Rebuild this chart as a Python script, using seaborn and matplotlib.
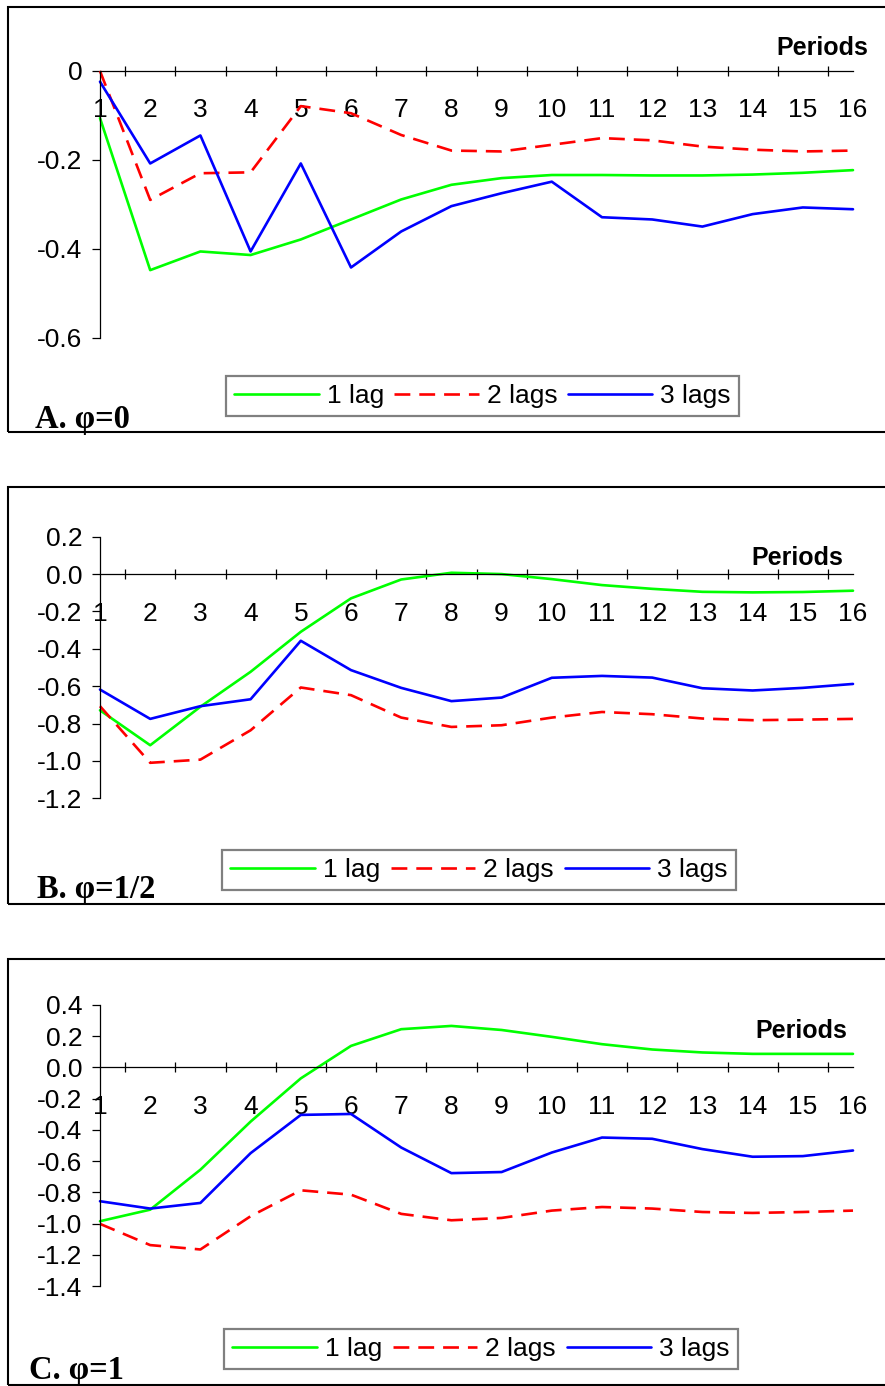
import numpy as np
import pandas as pd
import matplotlib
matplotlib.use("Agg")
import matplotlib.pyplot as plt
from matplotlib.patches import Rectangle
import seaborn as sns

# ─── DATA ──────────────────────────────────────────────────────────────────
periods = list(range(1, 17))
series_names = ['1 lag', '2 lags', '3 lags']

# A. phi = 0
a_lag1 = [-0.106, -0.448, -0.406, -0.414, -0.379, -0.334, -0.289, -0.256,
          -0.241, -0.234, -0.234, -0.235, -0.235, -0.233, -0.229, -0.223]
a_lag2 = [0.0, -0.290, -0.230, -0.228, -0.079, -0.095, -0.144, -0.179,
          -0.181, -0.166, -0.151, -0.156, -0.170, -0.177, -0.181, -0.179]
a_lag3 = [-0.024, -0.208, -0.145, -0.406, -0.208, -0.442, -0.361, -0.304,
          -0.275, -0.249, -0.329, -0.334, -0.350, -0.322, -0.307, -0.311]

# B. phi = 1/2
b_lag1 = [-0.729, -0.916, -0.710, -0.523, -0.309, -0.130, -0.029, 0.007,
          0.000, -0.027, -0.059, -0.079, -0.095, -0.098, -0.096, -0.089]
b_lag2 = [-0.707, -1.010, -0.993, -0.836, -0.607, -0.648, -0.768, -0.818,
          -0.809, -0.768, -0.738, -0.750, -0.773, -0.782, -0.779, -0.775]
b_lag3 = [-0.618, -0.775, -0.707, -0.670, -0.357, -0.514, -0.609, -0.680,
          -0.661, -0.555, -0.545, -0.554, -0.611, -0.623, -0.609, -0.588]

# C. phi = 1
c_lag1 = [-0.985, -0.911, -0.655, -0.347, -0.070, 0.138, 0.245, 0.266,
          0.240, 0.196, 0.149, 0.115, 0.096, 0.087, 0.087, 0.087]
c_lag2 = [-1.002, -1.138, -1.166, -0.953, -0.787, -0.815, -0.938, -0.979,
          -0.964, -0.917, -0.894, -0.904, -0.926, -0.932, -0.926, -0.917]
c_lag3 = [-0.857, -0.904, -0.868, -0.549, -0.304, -0.298, -0.513, -0.677,
          -0.670, -0.545, -0.449, -0.457, -0.523, -0.572, -0.568, -0.532]

a_yticks = [0.0, -0.2, -0.4, -0.6]
a_ylabels = ['0', '-0.2', '-0.4', '-0.6']
b_yticks = [0.2, 0.0, -0.2, -0.4, -0.6, -0.8, -1.0, -1.2]
b_ylabels = ['0.2', '0.0', '-0.2', '-0.4', '-0.6', '-0.8', '-1.0', '-1.2']
c_yticks = [0.4, 0.2, 0.0, -0.2, -0.4, -0.6, -0.8, -1.0, -1.2, -1.4]
c_ylabels = ['0.4', '0.2', '0.0', '-0.2', '-0.4', '-0.6', '-0.8', '-1.0', '-1.2', '-1.4']

panel_titles = ['A. φ=0', 'B. φ=1/2', 'C. φ=1']

# ─── STYLE ────────────────────────────────────────────────────────────────
sns.set_style("white")
plt.rcParams['font.family'] = ['Liberation Sans', 'DejaVu Sans']
plt.rcParams['axes.unicode_minus'] = False
plt.rcParams['text.color'] = 'black'
plt.rcParams['xtick.color'] = 'black'
plt.rcParams['ytick.color'] = 'black'
plt.rcParams['xtick.labelcolor'] = 'black'
plt.rcParams['ytick.labelcolor'] = 'black'

PALETTE = {'1 lag': '#00ff00', '2 lags': '#ff0000', '3 lags': '#0000ff'}
DASHES = {'1 lag': '', '2 lags': (6, 3.4), '3 lags': ''}

W, H = 885, 1386
fig = plt.figure(figsize=(W / 100, H / 100), dpi=100)


def fx(px):
    return px / W


def fy(py):
    return 1 - py / H


# pixel layout for each panel: box, axes area, legend, labels
panels = [
    dict(series=[a_lag1, a_lag2, a_lag3], yticks=a_yticks, ylabels=a_ylabels,
         box=(8, 7, 432), ytop=71, ybot=337.7,
         leg=(226, 376, 739, 416), periods=(868, 55), title=(35, 428)),
    dict(series=[b_lag1, b_lag2, b_lag3], yticks=b_yticks, ylabels=b_ylabels,
         box=(8, 487, 904), ytop=536.7, ybot=798.3,
         leg=(222, 850, 736, 890), periods=(843, 565), title=(37, 898)),
    dict(series=[c_lag1, c_lag2, c_lag3], yticks=c_yticks, ylabels=c_ylabels,
         box=(8, 959, 1385), ytop=1005, ybot=1286,
         leg=(224, 1329, 738, 1369), periods=(847, 1038), title=(29, 1379)),
]

for p, title in zip(panels, panel_titles):
    # frame around the panel (open on the right, like the reference)
    bx, btop, bbot = p['box']
    fig.patches.append(Rectangle((fx(bx), fy(bbot)), fx(W + 20 - bx), fy(btop) - fy(bbot),
                                 transform=fig.transFigure, fill=False,
                                 edgecolor='black', linewidth=1.5, zorder=0))

    ax = fig.add_axes([fx(100), fy(p['ybot']), fx(853 - 100), fy(p['ytop']) - fy(p['ybot'])])
    ax.patch.set_alpha(0)

    df = pd.DataFrame({
        'period': periods * 3,
        'value': sum(p['series'], []),
        'lag': np.repeat(series_names, len(periods)),
    })
    sns.lineplot(data=df, x='period', y='value', hue='lag', style='lag',
                 palette=PALETTE, dashes=DASHES, linewidth=1.9,
                 legend=False, ax=ax, errorbar=None)
    for ln in ax.get_lines():
        ln.set_clip_on(False)

    ax.set_xlim(1, 16)
    ax.set_ylim(p['yticks'][-1], p['yticks'][0])
    ax.set_xlabel('')
    ax.set_ylabel('')

    for s in ['top', 'right']:
        ax.spines[s].set_visible(False)
    ax.spines['bottom'].set_position(('data', 0))
    for s in ['left', 'bottom']:
        ax.spines[s].set_color('black')
        ax.spines[s].set_linewidth(0.9)

    ax.set_xticks(periods)
    ax.set_xticklabels([str(v) for v in periods])
    ax.set_xticks(np.arange(1.5, 16, 1.0), minor=True)
    ax.tick_params(axis='x', which='major', direction='inout', length=11.5,
                   width=0.9, color='black', pad=14, labelsize=19)
    ax.tick_params(axis='x', which='minor', direction='inout', length=7,
                   width=0.9, color='black', bottom=True)
    ax.set_yticks(p['yticks'])
    ax.set_yticklabels(p['ylabels'])
    ax.tick_params(axis='y', which='major', direction='out', length=5.8,
                   width=0.9, color='black', pad=7, labelsize=19, left=True)

    # legend in its own box
    lx0, ly0, lx1, ly1 = p['leg']
    handles = ax.get_lines()[:3]
    fig.legend(handles, series_names, loc='center', ncol=3, mode='expand',
               bbox_to_anchor=(fx(lx0), fy(ly1), fx(lx1 - lx0), fy(ly0) - fy(ly1)),
               bbox_transform=fig.transFigure, fontsize=19, frameon=True,
               fancybox=False, edgecolor='#808080', handlelength=3.2,
               handletextpad=0.3, columnspacing=0.6, borderpad=0.32,
               borderaxespad=0, framealpha=1)

    px_, py_ = p['periods']
    fig.text(fx(px_), fy(py_), 'Periods', ha='right', va='baseline',
             fontsize=18, fontweight='bold')
    tx, ty = p['title']
    fig.text(fx(tx), fy(ty), title, ha='left', va='baseline', fontsize=23.5,
             fontweight='bold', family=['Liberation Serif', 'DejaVu Serif'])

for lg in fig.legends:
    lg.get_frame().set_linewidth(1.6)

fig.savefig('out.png', dpi=100)
